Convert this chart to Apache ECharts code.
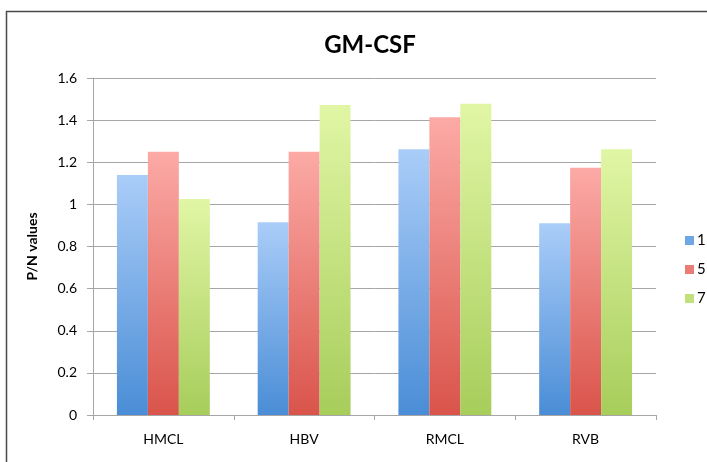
<!DOCTYPE html>
<html>
<head>
<meta charset="utf-8">
<style>
  html, body { margin: 0; padding: 0; background: #fff; }
  #chart { width: 707px; height: 462px; }
</style>
<script src="https://cdn.jsdelivr.net/npm/echarts@6/dist/echarts.min.js"></script>
</head>
<body>
<div id="chart"></div>
<script>
// GM-CSF P/N values by sample group and day
const categories = ['HMCL', 'HBV', 'RMCL', 'RVB'];
const seriesNames = ['1', '5', '7'];
const day1 = [1.14, 0.915, 1.262, 0.91];
const day5 = [1.25, 1.25, 1.414, 1.174];
const day7 = [1.026, 1.472, 1.478, 1.262];
const yTicks = [0, 0.2, 0.4, 0.6, 0.8, 1, 1.2, 1.4, 1.6];

const FONT = 'Lato, "Open Sans", sans-serif';

function grad(top, bottom) {
  return new echarts.graphic.LinearGradient(0, 0, 0, 1, [
    { offset: 0, color: top },
    { offset: 1, color: bottom }
  ]);
}

const palettes = [
  { top: '#aacdf8', bottom: '#4a8dd6', legend: '#6fa6e6' },
  { top: '#fcaaa6', bottom: '#d9544b', legend: '#ea7c76' },
  { top: '#e1f6a5', bottom: '#a7cd5b', legend: '#c2e07c' }
];

const values = [day1, day5, day7];

const chart = echarts.init(document.getElementById('chart'), null, { renderer: 'canvas' });

chart.setOption({
  animation: false,
  backgroundColor: '#ffffff',
  title: {
    text: 'GM-CSF',
    left: 365,
    top: 28,
    textAlign: 'center',
    textStyle: { fontFamily: FONT, fontSize: 24, fontWeight: 'bold', color: '#000' }
  },
  graphic: [{
    type: 'polyline',
    shape: { points: [[6.5, 470], [6.5, 11.5], [710, 11.5]] },
    style: { stroke: '#4a4a4a', lineWidth: 1.5, fill: null },
    silent: true
  }],
  legend: {
    orient: 'vertical',
    left: 680,
    top: 228,
    itemWidth: 9,
    itemHeight: 9,
    itemGap: 14,
    icon: 'rect',
    textStyle: { fontFamily: FONT, fontSize: 15, color: '#000', padding: [0, 0, 0, -2] },
    data: seriesNames.map((n, i) => ({ name: n, itemStyle: { color: palettes[i].legend } }))
  },
  grid: { left: 93, right: 51, top: 78, bottom: 47 },
  xAxis: {
    type: 'category',
    data: categories,
    axisLine: { lineStyle: { color: '#a6a6a6', width: 1 } },
    axisTick: { show: true, length: 5, lineStyle: { color: '#a6a6a6' } },
    axisLabel: { fontFamily: FONT, fontSize: 14, color: '#000', margin: 17 }
  },
  yAxis: {
    type: 'value',
    min: yTicks[0],
    max: yTicks[yTicks.length - 1],
    interval: 0.2,
    name: 'P/N values',
    nameLocation: 'middle',
    nameGap: 54,
    nameTextStyle: { fontFamily: FONT, fontSize: 14, fontWeight: 'bold', color: '#000' },
    axisLine: { show: true, lineStyle: { color: '#a6a6a6', width: 1 } },
    axisTick: { show: true, length: 6, lineStyle: { color: '#a6a6a6' } },
    axisLabel: {
      fontFamily: FONT, fontSize: 14, color: '#000', margin: 16,
      formatter: v => String(parseFloat(v.toFixed(1)))
    },
    splitLine: { lineStyle: { color: '#a6a6a6', width: 1 } }
  },
  series: seriesNames.map((n, i) => ({
    name: n,
    type: 'bar',
    data: values[i],
    barGap: '0%',
    barCategoryGap: '34%',
    itemStyle: { color: grad(palettes[i].top, palettes[i].bottom) }
  }))
});
</script>
</body>
</html>
